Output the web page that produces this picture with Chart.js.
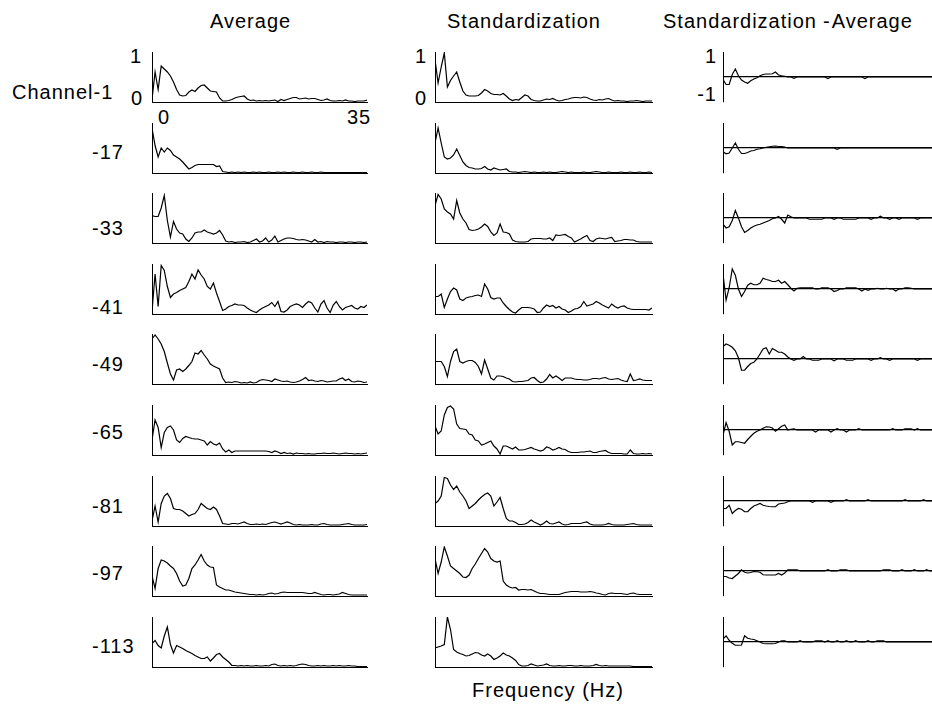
<!DOCTYPE html>
<html>
<head>
<meta charset="utf-8">
<script src="https://cdn.jsdelivr.net/npm/chart.js@4.4.1/dist/chart.umd.min.js"></script>
<style>
    body { margin: 0; width: 932px; height: 711px; overflow: hidden; background: #fff; position: relative;
           font-family: "Liberation Sans", Arial, sans-serif; }
    .t { position: absolute; font-size: 20px; line-height: 20px; letter-spacing: 1px; color: #000; white-space: nowrap; }
    .r { transform: translateX(-100%); }
    canvas { position: absolute; }
</style>
</head>
<body>
<script>
// frequency axis (Hz)
const freqs = [0, 0.5, 1, 1.5, 2, 2.5, 3, 3.5, 4, 4.5,
    5, 5.5, 6, 6.5, 7, 7.5, 8, 8.5, 9, 9.5,
    10, 10.5, 11, 11.5, 12, 12.5, 13, 13.5, 14, 14.5,
    15, 15.5, 16, 16.5, 17, 17.5, 18, 18.5, 19, 19.5,
    20, 20.5, 21, 21.5, 22, 22.5, 23, 23.5, 24, 24.5,
    25, 25.5, 26, 26.5, 27, 27.5, 28, 28.5, 29, 29.5,
    30, 30.5, 31, 31.5, 32, 32.5, 33, 33.5, 34, 34.5, 35];

const rowLabels = ['Channel-1', '-17', '-33', '-41', '-49', '-65', '-81', '-97', '-113'];
const colTitles = ['Average', 'Standardization', 'Standardization', 'Average'];
const xTickLabels = ['0', '35'];
const yTickLabels = [['1', '0'], ['1', '0'], ['1', '-1']];
const axisLabel = 'Frequency (Hz)';

// --- Average column ---
const avgCh1 = [0.05, 0.6, 0.25, 0.72, 0.66, 0.6, 0.52, 0.4, 0.25, 0.14,
    0.12, 0.13, 0.2, 0.24, 0.21, 0.28, 0.33, 0.34, 0.28, 0.22,
    0.21, 0.2, 0.08, 0.02, 0.02, 0.03, 0.05, 0.08, 0.1, 0.11,
    0.12, 0.06, 0.03, 0.04, 0.02, 0.03, 0.02, 0.03, 0.02, 0.03,
    0.04, 0.01, 0.05, 0.03, 0.05, 0.07, 0.09, 0.09, 0.06, 0.07,
    0.08, 0.06, 0.07, 0.07, 0.05, 0.03, 0.04, 0.06, 0.03, 0.02,
    0.02, 0.03, 0.02, 0.04, 0.02, 0.02, 0.01, 0.02, 0.02, 0.02, 0.04];
const avg17 = [0.9, 0.55, 0.32, 0.5, 0.42, 0.5, 0.45, 0.36, 0.32, 0.28,
    0.22, 0.15, 0.08, 0.11, 0.15, 0.17, 0.17, 0.17, 0.17, 0.17,
    0.17, 0.13, 0.14, 0.03, 0.02, 0.01, 0.02, 0.01, 0.02, 0.01,
    0.02, 0.01, 0.01, 0.02, 0.01, 0.02, 0.01, 0.01, 0.02, 0.01,
    0.01, 0.02, 0.01, 0.02, 0.01, 0.01, 0.02, 0.01, 0.01, 0.02,
    0.01, 0.01, 0.02, 0.01, 0.01, 0.02, 0.01, 0.01, 0.01, 0.01,
    0.01, 0.01, 0.01, 0.01, 0.01, 0.01, 0.01, 0.01, 0.01, 0.01, 0.01];
const avg33 = [0.55, 0.53, 0.53, 0.7, 0.95, 0.45, 0.12, 0.43, 0.28, 0.2,
    0.18, 0.08, 0.03, 0.1, 0.2, 0.22, 0.22, 0.26, 0.22, 0.2,
    0.18, 0.2, 0.25, 0.16, 0.04, 0.02, 0.03, 0.01, 0.02, 0.02,
    0.03, 0.01, 0.02, 0.05, 0.08, 0.02, 0.04, 0.1, 0.02, 0.06,
    0.14, 0.02, 0.05, 0.08, 0.1, 0.1, 0.09, 0.07, 0.06, 0.07,
    0.06, 0.04, 0.02, 0.07, 0.02, 0.03, 0.01, 0.03, 0.02, 0.02,
    0.01, 0.02, 0.02, 0.01, 0.02, 0.02, 0.01, 0.02, 0.02, 0.01, 0.02];
const avg41 = [0.05, 0.8, 0.15, 0.97, 0.87, 0.55, 0.33, 0.4, 0.43, 0.47,
    0.5, 0.53, 0.65, 0.8, 0.7, 0.88, 0.78, 0.7, 0.55, 0.5,
    0.62, 0.42, 0.25, 0.07, 0.1, 0.15, 0.17, 0.2, 0.18, 0.18,
    0.17, 0.12, 0.08, 0.05, 0.03, 0.08, 0.12, 0.15, 0.18, 0.23,
    0.15, 0.25, 0.05, 0.04, 0.08, 0.15, 0.18, 0.2, 0.18, 0.13,
    0.2, 0.25, 0.22, 0.12, 0.04, 0.2, 0.27, 0.12, 0.03, 0.18,
    0.25, 0.15, 0.08, 0.13, 0.15, 0.17, 0.12, 0.1, 0.15, 0.13, 0.18];
const avg49 = [0.9, 0.98, 0.9, 0.8, 0.65, 0.42, 0.2, 0.08, 0.28, 0.3,
    0.25, 0.3, 0.37, 0.45, 0.62, 0.6, 0.67, 0.58, 0.5, 0.4,
    0.36, 0.33, 0.3, 0.12, 0.03, 0.04, 0.03, 0.05, 0.04, 0.02,
    0.03, 0.02, 0.04, 0.02, 0.03, 0.07, 0.09, 0.08, 0.07, 0.05,
    0.1, 0.08, 0.06, 0.05, 0.06, 0.04, 0.03, 0.04, 0.06, 0.09,
    0.13, 0.07, 0.08, 0.06, 0.05, 0.07, 0.06, 0.04, 0.05, 0.06,
    0.06, 0.1, 0.12, 0.07, 0.1, 0.05, 0.04, 0.06, 0.05, 0.03, 0.04];
const avg65 = [0.3, 0.7, 0.55, 0.15, 0.45, 0.55, 0.58, 0.5, 0.3, 0.25,
    0.33, 0.37, 0.35, 0.33, 0.32, 0.32, 0.3, 0.28, 0.2, 0.27,
    0.22, 0.2, 0.24, 0.12, 0.06, 0.1, 0.05, 0.08, 0.08, 0.08,
    0.08, 0.08, 0.08, 0.08, 0.08, 0.08, 0.08, 0.08, 0.07, 0.05,
    0.08, 0.06, 0.03, 0.05, 0.03, 0.04, 0.02, 0.04, 0.03, 0.03,
    0.02, 0.03, 0.02, 0.02, 0.03, 0.03, 0.04, 0.03, 0.03, 0.04,
    0.03, 0.02, 0.03, 0.04, 0.03, 0.03, 0.02, 0.03, 0.02, 0.03, 0.04];
const avg81 = [0.1, 0.4, 0.08, 0.45, 0.6, 0.65, 0.55, 0.35, 0.33, 0.33,
    0.3, 0.25, 0.2, 0.23, 0.25, 0.33, 0.45, 0.4, 0.35, 0.33,
    0.38, 0.33, 0.2, 0.05, 0.04, 0.03, 0.05, 0.05, 0.04, 0.06,
    0.08, 0.05, 0.03, 0.03, 0.04, 0.03, 0.04, 0.03, 0.05, 0.07,
    0.08, 0.06, 0.04, 0.06, 0.08, 0.06, 0.03, 0.02, 0.03, 0.02,
    0.02, 0.02, 0.03, 0.02, 0.02, 0.04, 0.05, 0.03, 0.02, 0.02,
    0.02, 0.02, 0.03, 0.04, 0.05, 0.03, 0.02, 0.02, 0.02, 0.02, 0.03];
const avg97 = [0.4, 0.15, 0.55, 0.72, 0.7, 0.66, 0.6, 0.55, 0.45, 0.3,
    0.2, 0.22, 0.35, 0.55, 0.62, 0.72, 0.83, 0.7, 0.62, 0.58,
    0.57, 0.22, 0.18, 0.15, 0.12, 0.12, 0.1, 0.08, 0.07, 0.06,
    0.05, 0.04, 0.03, 0.03, 0.02, 0.03, 0.02, 0.03, 0.05, 0.06,
    0.04, 0.05, 0.07, 0.08, 0.07, 0.07, 0.07, 0.07, 0.07, 0.07,
    0.06, 0.05, 0.05, 0.07, 0.05, 0.03, 0.02, 0.03, 0.03, 0.02,
    0.03, 0.04, 0.07, 0.05, 0.03, 0.02, 0.02, 0.02, 0.02, 0.02, 0.02];
const avg113 = [0.47, 0.53, 0.43, 0.38, 0.62, 0.8, 0.45, 0.28, 0.43, 0.4,
    0.37, 0.33, 0.3, 0.27, 0.23, 0.2, 0.17, 0.17, 0.2, 0.12,
    0.18, 0.25, 0.27, 0.2, 0.15, 0.1, 0.03, 0.03, 0.02, 0.03,
    0.02, 0.03, 0.02, 0.02, 0.03, 0.02, 0.02, 0.03, 0.02, 0.05,
    0.06, 0.03, 0.02, 0.03, 0.02, 0.03, 0.02, 0.03, 0.05, 0.06,
    0.05, 0.03, 0.02, 0.02, 0.03, 0.02, 0.03, 0.02, 0.02, 0.03,
    0.02, 0.03, 0.02, 0.02, 0.03, 0.02, 0.02, 0.01, 0.01, 0.01, 0.01];

// --- Standardization column ---
const stdCh1 = [0.85, 0.38, 0.7, 0.98, 0.3, 0.43, 0.52, 0.6, 0.4, 0.22,
    0.14, 0.12, 0.12, 0.12, 0.13, 0.18, 0.25, 0.22, 0.17, 0.15,
    0.15, 0.14, 0.17, 0.12, 0.06, 0.03, 0.05, 0.04, 0.09, 0.14,
    0.12, 0.05, 0.03, 0.02, 0.02, 0.04, 0.06, 0.05, 0.07, 0.04,
    0.02, 0.03, 0.05, 0.06, 0.08, 0.09, 0.09, 0.08, 0.1, 0.09,
    0.06, 0.04, 0.03, 0.05, 0.04, 0.06, 0.07, 0.04, 0.02, 0.03,
    0.02, 0.02, 0.01, 0.02, 0.02, 0.03, 0.02, 0.01, 0.02, 0.02, 0.02];
const std17 = [0.6, 0.9, 0.6, 0.32, 0.28, 0.3, 0.36, 0.48, 0.35, 0.22,
    0.15, 0.11, 0.1, 0.08, 0.08, 0.09, 0.13, 0.08, 0.06, 0.1,
    0.08, 0.06, 0.07, 0.08, 0.03, 0.02, 0.02, 0.01, 0.02, 0.03,
    0.02, 0.01, 0.02, 0.01, 0.01, 0.02, 0.01, 0.02, 0.01, 0.01,
    0.02, 0.03, 0.02, 0.01, 0.02, 0.01, 0.01, 0.01, 0.02, 0.01,
    0.01, 0.02, 0.03, 0.02, 0.01, 0.01, 0.02, 0.01, 0.01, 0.01,
    0.02, 0.01, 0.01, 0.02, 0.01, 0.01, 0.02, 0.01, 0.01, 0.02, 0.01];
const std33 = [0.75, 0.97, 0.88, 0.68, 0.62, 0.58, 0.48, 0.85, 0.6, 0.48,
    0.4, 0.27, 0.25, 0.26, 0.28, 0.32, 0.38, 0.33, 0.22, 0.15,
    0.2, 0.38, 0.22, 0.21, 0.18, 0.06, 0.03, 0.02, 0.02, 0.02,
    0.03, 0.08, 0.09, 0.09, 0.09, 0.08, 0.08, 0.1, 0.05, 0.16,
    0.15, 0.16, 0.17, 0.13, 0.1, 0.02, 0.05, 0.08, 0.12, 0.15,
    0.05, 0.03, 0.08, 0.1, 0.09, 0.08, 0.1, 0.11, 0.03, 0.04,
    0.05, 0.07, 0.07, 0.06, 0.06, 0.03, 0.02, 0.02, 0.02, 0.02, 0.02];
const std41 = [0.35, 0.35, 0.4, 0.13, 0.3, 0.45, 0.52, 0.48, 0.3, 0.27,
    0.32, 0.34, 0.35, 0.37, 0.38, 0.35, 0.6, 0.5, 0.33, 0.3,
    0.32, 0.32, 0.22, 0.15, 0.09, 0.04, 0.02, 0.08, 0.13, 0.13,
    0.13, 0.12, 0.1, 0.03, 0.04, 0.12, 0.18, 0.15, 0.17, 0.12,
    0.15, 0.1, 0.08, 0.03, 0.06, 0.1, 0.11, 0.15, 0.25, 0.16,
    0.18, 0.2, 0.25, 0.22, 0.18, 0.15, 0.12, 0.2, 0.15, 0.12,
    0.15, 0.16, 0.12, 0.1, 0.09, 0.09, 0.09, 0.09, 0.09, 0.08, 0.12];
const std49 = [0.45, 0.45, 0.45, 0.35, 0.15, 0.45, 0.65, 0.7, 0.45, 0.42,
    0.45, 0.47, 0.47, 0.43, 0.35, 0.2, 0.48, 0.3, 0.12, 0.08,
    0.16, 0.16, 0.15, 0.12, 0.1, 0.05, 0.04, 0.05, 0.05, 0.06,
    0.07, 0.12, 0.13, 0.07, 0.03, 0.04, 0.1, 0.19, 0.12, 0.16,
    0.12, 0.07, 0.12, 0.12, 0.12, 0.1, 0.09, 0.09, 0.08, 0.08,
    0.09, 0.11, 0.11, 0.1, 0.12, 0.13, 0.1, 0.09, 0.1, 0.11,
    0.08, 0.06, 0.05, 0.2, 0.07, 0.08, 0.1, 0.08, 0.07, 0.07, 0.07];
const std65 = [0.58, 0.42, 0.48, 0.8, 0.95, 0.98, 0.92, 0.62, 0.53, 0.52,
    0.51, 0.42, 0.4, 0.3, 0.28, 0.2, 0.22, 0.25, 0.28, 0.18,
    0.12, 0.02, 0.18, 0.18, 0.15, 0.12, 0.16, 0.1, 0.1, 0.11,
    0.13, 0.15, 0.12, 0.1, 0.08, 0.1, 0.16, 0.14, 0.1, 0.12,
    0.15, 0.12, 0.11, 0.07, 0.05, 0.05, 0.05, 0.06, 0.06, 0.07,
    0.08, 0.05, 0.05, 0.07, 0.08, 0.09, 0.05, 0.03, 0.03, 0.03,
    0.03, 0.02, 0.02, 0.1, 0.03, 0.02, 0.02, 0.03, 0.02, 0.03, 0.02];
const std81 = [0.45, 0.5, 0.6, 0.97, 0.95, 0.82, 0.73, 0.8, 0.68, 0.6,
    0.5, 0.35, 0.4, 0.45, 0.52, 0.58, 0.63, 0.66, 0.6, 0.4,
    0.48, 0.57, 0.35, 0.15, 0.1, 0.1, 0.07, 0.03, 0.03, 0.04,
    0.07, 0.12, 0.08, 0.05, 0.02, 0.05, 0.1, 0.05, 0.04, 0.06,
    0.08, 0.04, 0.02, 0.03, 0.05, 0.05, 0.05, 0.05, 0.07, 0.08,
    0.04, 0.02, 0.02, 0.02, 0.02, 0.03, 0.05, 0.03, 0.02, 0.02,
    0.02, 0.02, 0.03, 0.04, 0.05, 0.03, 0.02, 0.02, 0.02, 0.02, 0.02];
const std97 = [0.75, 0.45, 0.68, 0.98, 0.8, 0.6, 0.55, 0.5, 0.45, 0.38,
    0.37, 0.42, 0.55, 0.64, 0.75, 0.85, 0.95, 0.88, 0.75, 0.7,
    0.68, 0.7, 0.3, 0.22, 0.18, 0.16, 0.17, 0.12, 0.13, 0.13,
    0.12, 0.13, 0.1, 0.07, 0.05, 0.05, 0.04, 0.03, 0.03, 0.03,
    0.03, 0.05, 0.07, 0.08, 0.09, 0.09, 0.09, 0.08, 0.08, 0.08,
    0.09, 0.08, 0.06, 0.05, 0.03, 0.02, 0.05, 0.06, 0.05, 0.05,
    0.05, 0.04, 0.03, 0.05, 0.06, 0.04, 0.03, 0.03, 0.03, 0.03, 0.03];
const std113 = [0.38, 0.4, 0.42, 0.45, 1.0, 0.75, 0.35, 0.3, 0.27, 0.25,
    0.22, 0.23, 0.26, 0.29, 0.28, 0.24, 0.22, 0.26, 0.22, 0.15,
    0.18, 0.22, 0.28, 0.24, 0.22, 0.18, 0.13, 0.05, 0.02, 0.02,
    0.03, 0.06, 0.04, 0.02, 0.03, 0.04, 0.06, 0.03, 0.02, 0.02,
    0.03, 0.02, 0.02, 0.03, 0.03, 0.02, 0.02, 0.03, 0.02, 0.02,
    0.02, 0.03, 0.05, 0.03, 0.02, 0.03, 0.02, 0.02, 0.02, 0.02,
    0.02, 0.02, 0.02, 0.02, 0.01, 0.01, 0.01, 0.01, 0.01, 0.01, 0.01];

// --- Standardization - Average column ---
const difCh1 = [-0.1, -0.3, -0.3, 0.1, 0.32, 0.05, -0.12, -0.2, -0.25, -0.15,
    -0.08, -0.03, 0.05, 0.1, 0.12, 0.12, 0.13, 0.2, 0.08, 0.05,
    0.03, 0, 0, -0.05, 0, 0, 0, 0, 0, 0,
    0, 0, 0, 0, -0.06, 0, 0, 0, 0, 0,
    0, 0, 0, 0, 0, 0, -0.06, 0, 0, 0,
    0, 0, 0, 0, 0, 0, 0, 0, 0, 0,
    0, 0, 0, 0, 0, 0, 0, 0, 0, 0, 0];
const dif17 = [-0.15, -0.23, -0.2, 0, 0.2, -0.05, -0.22, -0.22, -0.18, -0.12,
    -0.1, -0.05, -0.03, 0, 0.03, 0.05, 0.07, 0.08, 0.06, 0.06,
    0.04, 0, 0, 0, 0, 0, 0, 0, 0, 0,
    0, 0, 0, 0, 0, 0, 0, -0.05, 0, 0,
    0, 0, 0, 0, 0, 0, 0, 0, 0, 0,
    0, 0, 0, 0, 0, 0, 0, 0, 0, 0,
    0, 0, 0, 0, 0, 0, 0, 0, 0, 0, 0];
const dif33 = [-0.25, -0.4, -0.35, -0.1, 0.3, 0, -0.35, -0.58, -0.5, -0.4,
    -0.33, -0.28, -0.25, -0.2, -0.15, -0.1, -0.03, 0, 0.06, -0.05,
    -0.2, 0.12, 0.05, 0, 0, 0, 0, 0, -0.05, -0.05,
    -0.05, -0.05, -0.05, 0, 0, 0, -0.05, 0, 0, -0.05,
    -0.05, -0.05, -0.05, -0.05, 0, 0, 0, 0, -0.05, 0,
    0, 0.07, 0, 0, -0.05, 0, 0, -0.05, 0, 0,
    0, 0, 0, -0.05, 0, 0, 0, 0, 0, 0, 0];
const dif41 = [0.6, -0.45, 0.05, 0.8, 0.55, 0, -0.3, -0.1, 0.15, 0.23,
    0.17, 0.17, 0.23, 0.43, 0.38, 0.35, 0.3, 0.3, 0.35, 0.23,
    0.3, 0.17, 0.03, -0.08, 0.03, 0.05, 0.05, 0.05, 0.05, 0.05,
    0, 0, 0.05, 0.05, 0.05, 0, -0.1, -0.06, 0, 0,
    0.05, 0.05, 0.05, 0.05, 0, -0.08, 0, -0.05, 0, 0,
    0.03, 0, 0, 0.03, 0, 0, -0.08, 0, 0, 0.05,
    0.05, 0.03, 0, 0, 0, 0, 0, 0, 0, 0, 0];
const dif49 = [0.5, 0.6, 0.55, 0.47, 0.33, 0.05, -0.45, -0.45, -0.3, -0.18,
    -0.13, 0, 0.2, 0.4, 0.45, 0.2, 0.42, 0.35, 0.27, 0.27,
    0.2, 0.08, 0, -0.05, 0, 0, 0.1, 0, 0, -0.05,
    -0.05, -0.05, 0, 0, 0, 0, -0.07, 0, 0, 0,
    -0.05, -0.05, -0.05, 0, 0, 0, 0, 0, -0.05, 0,
    0, 0.05, 0, 0, -0.05, 0, 0, 0, 0, 0,
    0, 0, 0, -0.05, 0, 0, 0, 0, 0, 0, 0];
const dif65 = [-0.2, 0.3, -0.05, -0.6, -0.47, -0.47, -0.5, -0.53, -0.38, -0.25,
    -0.13, -0.05, 0, 0.07, 0.13, 0.12, 0.08, -0.05, 0.05, 0.15,
    0.2, 0, 0.03, 0.05, 0, 0, 0, 0, 0, 0,
    -0.08, 0, 0, 0, 0, -0.08, 0, 0.05, 0, 0,
    -0.08, 0, 0, 0, 0.05, 0, 0, 0, 0, 0,
    0, 0, 0, 0, 0, 0.05, 0, 0, 0, 0.05,
    0.05, 0.05, 0, 0.05, 0, 0, 0, 0, 0, 0, 0];
const dif81 = [-0.3, -0.3, -0.17, -0.5, -0.38, -0.3, -0.33, -0.43, -0.43, -0.3,
    -0.2, -0.15, -0.1, -0.17, -0.2, -0.22, -0.23, -0.23, -0.12, -0.1,
    -0.08, -0.03, 0, 0, 0, 0, 0, 0, 0, -0.05,
    0, 0, 0, 0, 0, -0.05, 0, 0, 0, 0,
    0.05, 0, 0, 0, 0, 0, 0, 0.05, 0, 0,
    0, 0, 0, 0, 0, 0, 0, 0, 0, 0.05,
    0, 0, 0, 0, 0, 0.05, 0, 0, 0, 0, 0];
const dif97 = [-0.22, -0.22, -0.28, -0.3, -0.2, -0.1, 0.05, -0.05, -0.08, -0.06,
    -0.02, -0.03, -0.05, -0.15, -0.16, -0.16, -0.16, -0.16, -0.1, -0.16,
    -0.08, 0.05, 0.05, 0.05, 0.05, 0, 0, 0, 0, 0,
    0, 0, 0, 0, 0.05, 0, 0, 0, 0.05, 0.05,
    0.05, 0, 0, 0, 0, 0, 0, 0, 0, 0,
    0, 0, 0.05, 0.05, 0.05, 0, 0, 0, 0.05, 0,
    0, 0, 0.05, 0, 0, 0, 0.05, 0, 0, 0, 0];
const dif113 = [0.13, 0.24, 0.07, -0.05, -0.13, -0.13, -0.12, 0.25, 0.15, 0.12,
    0.1, 0.05, 0, -0.06, -0.07, -0.07, -0.07, -0.06, 0, 0.05,
    0.05, 0, 0, 0, 0, 0.05, 0, 0, 0, 0,
    0.05, 0.05, 0.05, 0, 0.05, 0, 0, 0.05, 0, 0,
    0.05, 0, 0, 0.05, 0, 0, 0, 0.05, 0, 0,
    0.05, 0.05, 0.05, 0, 0, 0, 0, 0, 0, 0,
    0, 0, 0, 0, 0, 0, 0, 0, 0, 0, 0];

const avgRows = [avgCh1, avg17, avg33, avg41, avg49, avg65, avg81, avg97, avg113];
const stdRows = [stdCh1, std17, std33, std41, std49, std65, std81, std97, std113];
const difRows = [difCh1, dif17, dif33, dif41, dif49, dif65, dif81, dif97, dif113];

// layout of the panel grid (chart areas)
const colLeft = [152, 435, 723];
const colWidth = [215, 217, 216];
const panelH = 50;
const pad = 3;
const rowTop = (r) => Math.round(52 + 70.6 * r);
const rowLabelMid = [92, 152, 228, 307, 364, 432, 506, 573, 646];

function addText(txt, left, baseline, rightAlign) {
    const d = document.createElement('div');
    d.className = rightAlign ? 't r' : 't';
    d.textContent = txt;
    d.style.left = left + 'px';
    d.style.top = (baseline - 17) + 'px';
    document.body.appendChild(d);
    return d;
}

function makePanel(col, row, values) {
    const diff = col === 2;
    const c = document.createElement('canvas');
    c.width = colWidth[col] + pad * 2;
    c.height = panelH + pad * 2;
    c.style.left = (colLeft[col] - pad) + 'px';
    c.style.top = (rowTop(row) - pad) + 'px';
    document.body.appendChild(c);

    new Chart(c, {
        type: 'line',
        data: {
            labels: freqs,
            datasets: [{
                data: values,
                borderColor: '#000',
                borderWidth: 1.2,
                pointRadius: 0,
                tension: 0,
                fill: false,
            }],
        },
        options: {
            responsive: false,
            animation: false,
            events: [],
            layout: { padding: pad },
            plugins: { legend: { display: false }, tooltip: { enabled: false } },
            scales: {
                x: {
                    type: 'linear',
                    min: 0,
                    max: 35,
                    ticks: { display: false },
                    grid: { display: false, drawTicks: false },
                    border: { display: !diff, color: '#000', width: 1 },
                },
                y: {
                    min: diff ? -1 : 0,
                    max: 1,
                    ticks: { display: false, stepSize: 1 },
                    grid: {
                        display: diff,
                        drawTicks: false,
                        lineWidth: 1.2,
                        color: (ctx) => (ctx.tick && ctx.tick.value === 0 ? '#000' : 'rgba(0,0,0,0)'),
                    },
                    border: { display: true, color: '#000', width: 1 },
                },
            },
        },
    });
}

// column titles
addText(colTitles[0], 210, 28);
addText(colTitles[1], 447, 28);
const t3 = addText(colTitles[2], 663, 28);
t3.innerHTML = '';
t3.append(colTitles[2]);
const dash = document.createElement('span');
dash.textContent = '-';
dash.style.margin = '0 1px 0 6px';
t3.append(dash, colTitles[3]);

// row labels
rowLabels.forEach((lab, r) => addText(lab, r === 0 ? 12 : 92, rowLabelMid[r] + 7));

// tick labels on the first row
addText(yTickLabels[0][0], 142, 63, true);
addText(yTickLabels[0][1], 143, 105, true);
addText(xTickLabels[0], 158, 124);
addText(xTickLabels[1], 347, 124);
addText(yTickLabels[1][0], 427, 63, true);
addText(yTickLabels[1][1], 427, 105, true);
addText(yTickLabels[2][0], 717, 63, true);
addText(yTickLabels[2][1], 717, 101, true);

// x axis title
const xt = addText(axisLabel, 548, 697);
xt.style.transform = 'translateX(-50%)';

for (let r = 0; r < 9; r++) {
    makePanel(0, r, avgRows[r]);
    makePanel(1, r, stdRows[r]);
    makePanel(2, r, difRows[r]);
}
</script>
</body>
</html>
